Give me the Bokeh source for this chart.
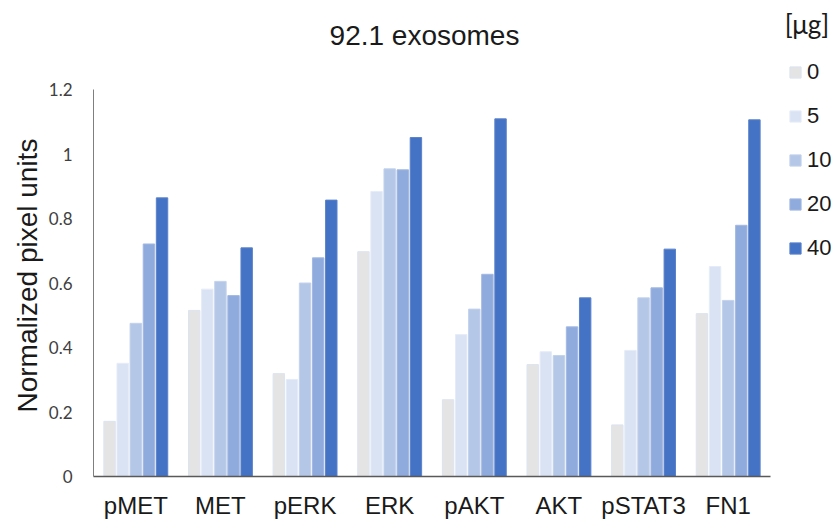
from bokeh.plotting import figure
from bokeh.models import ColumnDataSource, Range1d, Legend, LegendItem, Label, FixedTicker, Title
from bokeh.embed import file_html
from bokeh.resources import INLINE

categories = ["pMET", "MET", "pERK", "ERK", "pAKT", "AKT", "pSTAT3", "FN1"]
doses = ["0", "5", "10", "20", "40"]
v0 = [0.171, 0.515, 0.319, 0.697, 0.238, 0.347, 0.160, 0.505]
v5 = [0.351, 0.581, 0.301, 0.884, 0.440, 0.387, 0.391, 0.651]
v10 = [0.475, 0.605, 0.600, 0.954, 0.519, 0.375, 0.554, 0.546]
v20 = [0.721, 0.561, 0.678, 0.951, 0.627, 0.464, 0.585, 0.779]
v40 = [0.864, 0.709, 0.857, 1.051, 1.109, 0.554, 0.705, 1.106]
yticks = [0, 0.2, 0.4, 0.6, 0.8, 1.0, 1.2]
ytick_labels = ["0", "0.2", "0.4", "0.6", "0.8", "1", "1.2"]

fills = ["#E4E4E4", "#DAE3F3", "#B4C7E7", "#8FAADC", "#4472C4"]
lines = ["#DCE4F2", "#E6ECF7", "#C3D2EC", "#A3B9E2", "#5A82CA"]

# layout constants (pixels)
W, H = 838, 525
BL, BB = 93, 49
FW, FH = W - BL, H - BB
UNIT_X = 84.625          # px per category
UNIT_Y = 322.5           # px per 1.0
XMAX = FW / UNIT_X
YMAX = FH / UNIT_Y

centers = [i + 0.5 for i in range(len(categories))]
series = [v0, v5, v10, v20, v40]
stride = 0.155

p = figure(width=W, height=H, output_backend="svg", toolbar_location=None,
           x_range=Range1d(0, XMAX), y_range=Range1d(0, YMAX),
           min_border_left=BL, min_border_right=0, min_border_top=0, min_border_bottom=BB)
p.outline_line_color = None
p.xgrid.grid_line_color = None
p.ygrid.grid_line_color = None
p.background_fill_color = "white"
p.border_fill_color = "white"

renderers = []
for i, vals in enumerate(series):
    src = ColumnDataSource(dict(x=[c + (i - 2) * stride for c in centers], top=vals))
    r = p.vbar(x="x", top="top", width=0.135, bottom=0, source=src,
               fill_color=fills[i], line_color=lines[i], line_width=1)
    renderers.append(r)

# y axis
p.yaxis.ticker = FixedTicker(ticks=yticks)
p.yaxis.major_label_overrides = {t: l for t, l in zip(yticks, ytick_labels)}
p.yaxis.bounds = (0, 1.2)
p.yaxis.major_tick_out = 0
p.yaxis.major_tick_in = 0
p.yaxis.minor_tick_out = 0
p.yaxis.minor_tick_in = 0
p.yaxis.axis_line_color = "#7F7F7F"
p.yaxis.axis_line_width = 1
p.yaxis.major_label_standoff = 21
p.yaxis.major_label_text_font = "Lato"
p.yaxis.major_label_text_font_size = "17px"
p.yaxis.major_label_text_color = "#404040"

# y axis title, centred on the 0..1.2 axis extent rather than the whole frame
p.add_layout(Title(text="Normalized pixel units", align="left", offset=64, standoff=5,
                   text_font="Liberation Sans", text_font_size="28px",
                   text_font_style="normal", text_color="#1a1a1a"), "left")

# x axis
p.xaxis.ticker = FixedTicker(ticks=centers)
p.xaxis.major_label_overrides = {c: n for c, n in zip(centers, categories)}
p.xaxis.bounds = (0, len(categories))
p.xaxis.major_tick_out = 0
p.xaxis.major_tick_in = 0
p.xaxis.minor_tick_out = 0
p.xaxis.minor_tick_in = 0
p.xaxis.axis_line_color = "#595959"
p.xaxis.axis_line_width = 1.5
p.xaxis.major_label_standoff = 15
p.xaxis.major_label_text_font = "Liberation Sans"
p.xaxis.major_label_text_font_size = "24px"
p.xaxis.major_label_text_color = "#1a1a1a"

# title and unit label (inside the frame area, above the axes)
p.add_layout(Label(x=(424 - BL) / UNIT_X, y=(FH - 35) / UNIT_Y, text="92.1 exosomes",
                   text_align="center", text_baseline="middle", text_font="Liberation Sans",
                   text_font_size="28px", text_color="#1a1a1a"))
p.add_layout(Label(x=(806.5 - BL) / UNIT_X, y=(FH - 23) / UNIT_Y, text="[\u03bcg]",
                   text_align="center", text_baseline="middle", text_font="Lato",
                   text_font_size="26px", text_color="#1a1a1a"))

legend = Legend(items=[LegendItem(label=d, renderers=[r]) for d, r in zip(doses, renderers)],
                location=(695, 215), orientation="vertical",
                glyph_width=14, glyph_height=14, label_height=20, spacing=18,
                label_standoff=5, padding=0, margin=0,
                border_line_color=None, background_fill_alpha=0,
                label_text_font="Liberation Sans", label_text_font_size="22px",
                label_text_color="#1a1a1a")
p.add_layout(legend, "center")

open("out.html", "w").write(file_html(p, INLINE))
